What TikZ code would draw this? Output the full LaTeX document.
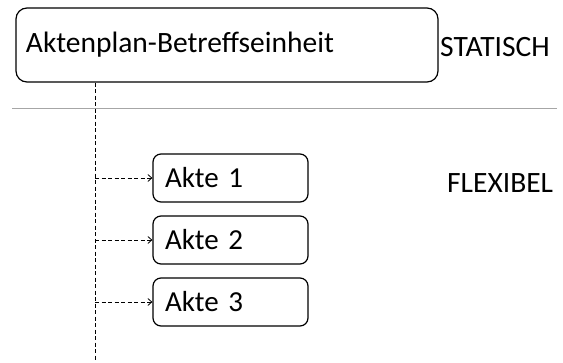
\documentclass[tikz,border=0pt]{standalone}
\usepackage{fontspec}
\setmainfont{Carlito}
\usetikzlibrary{arrows.meta}
\tikzset{
  bigbox/.style={draw, line width=1.2pt, rounded corners=11pt, minimum height=74pt, text width=402pt, inner xsep=10pt, align=left, font=\fontsize{29.5}{34}\selectfont},
  akte/.style={draw, line width=1.2pt, rounded corners=8pt, minimum height=48pt, text width=131pt, inner xsep=12pt, align=left, font=\fontsize{29}{34}\selectfont},
  lbl/.style={anchor=west, inner sep=0pt, font=\fontsize{29.5}{34}\selectfont},
  dashline/.style={dashed, dash pattern=on 4pt off 2.5pt, line width=1pt},
  arr/.style={dashline, -{Straight Barb[length=4pt,width=7pt,line width=0.8pt]}},
}
\begin{document}
\begin{tikzpicture}[x=1pt,y=-1pt]
\useasboundingbox (0,0) rectangle (563,362);
\node[bigbox] (top) at (227,45) {\raisebox{-2.5pt}{Aktenplan-Betreffseinheit}};
\node[lbl] (stat) at (440,47) {STATISCH};
\node[lbl] (flex) at (447,183) {FLEXIBEL};
\coordinate (hl) at (12,108);
\coordinate (hr) at (557,108);
\draw[gray!70, line width=1pt] (hl) -- (hr);
\coordinate (bot) at (95,362);
\draw[dashline] (bot |- top.south) -- (bot);
\node[akte] (a1) at (230.5,178) {Akte 1};
\node[akte] (a2) at (230.5,240) {Akte 2};
\node[akte] (a3) at (230.5,302) {Akte 3};
\foreach \n in {a1,a2,a3} \draw[arr] (bot |- \n.west) -- (\n.west);
\end{tikzpicture}
\end{document}
